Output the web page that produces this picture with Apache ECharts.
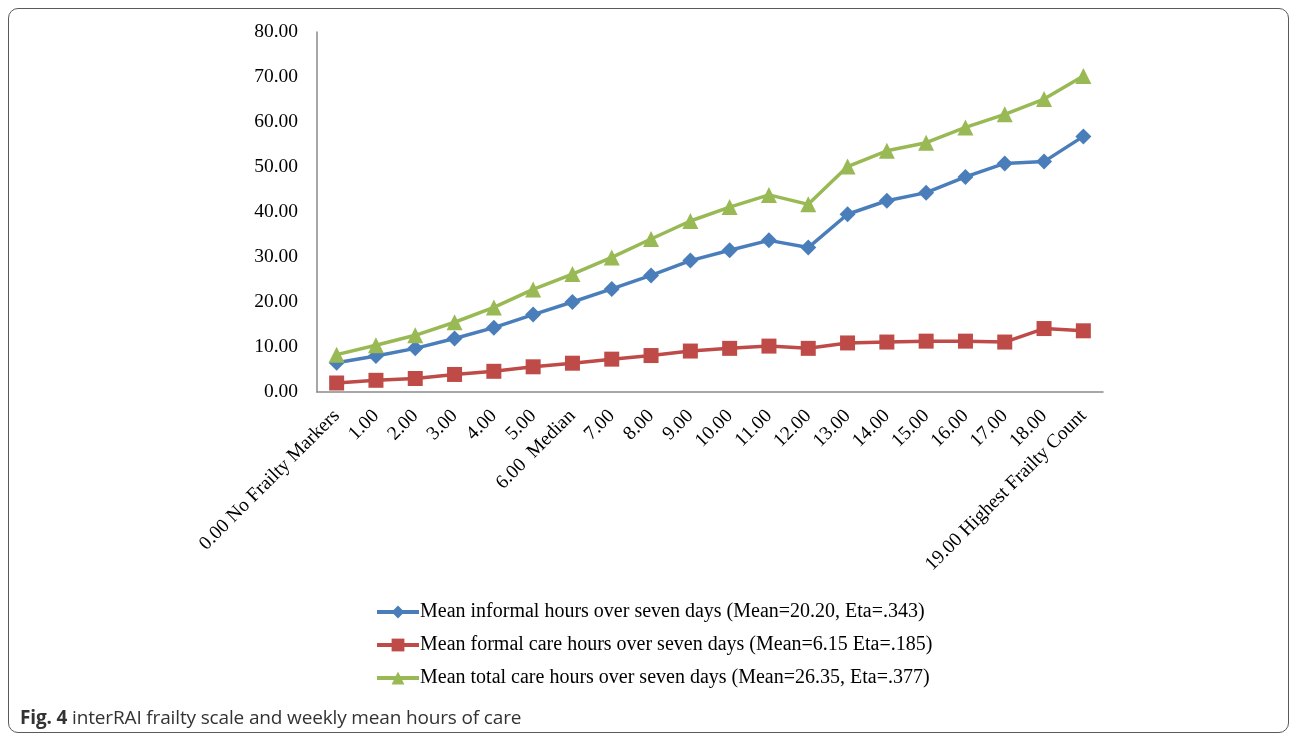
<!DOCTYPE html>
<html>
<head>
<meta charset="utf-8">
<script src="https://cdn.jsdelivr.net/npm/echarts@6/dist/echarts.min.js"></script>
<style>
  html, body { margin: 0; padding: 0; background: #fff; }
  #wrap { position: relative; width: 1292px; height: 736px; overflow: hidden; }
  #frame { position: absolute; left: 8px; top: 8px; width: 1281px; height: 725px;
           border: 1.5px solid #5a5a5a; border-radius: 10px; box-sizing: border-box; }
  #chart { position: absolute; left: 0; top: 0; width: 1292px; height: 736px; }
  #caption { position: absolute; left: 20px; top: 704px; font-family: "Open Sans", sans-serif;
             font-size: 19px; color: #333; letter-spacing: -0.15px; white-space: nowrap; }
  #caption b { font-weight: 700; }
</style>
</head>
<body>
<div id="wrap">
  <div id="frame"></div>
  <div id="chart"></div>
  <div id="caption"><b>Fig. 4</b> interRAI frailty scale and weekly mean hours of care</div>
</div>
<script>
// Frailty count categories (x axis)
const categories = [
  '0.00 No Frailty Markers', '1.00', '2.00', '3.00', '4.00', '5.00', '6.00  Median',
  '7.00', '8.00', '9.00', '10.00', '11.00', '12.00', '13.00', '14.00', '15.00',
  '16.00', '17.00', '18.00', '19.00 Highest Frailty Count'
];

// Weekly mean hours of care per frailty count
const informalHours = [6.5, 8.0, 9.7, 11.9, 14.3, 17.2, 20.0, 22.9, 25.9, 29.2,
                       31.5, 33.7, 32.1, 39.5, 42.5, 44.3, 47.8, 50.8, 51.2, 56.8];
const formalHours   = [2.0, 2.6, 3.0, 3.9, 4.6, 5.6, 6.4, 7.3, 8.1, 9.1,
                       9.7, 10.2, 9.7, 10.9, 11.1, 11.3, 11.3, 11.1, 14.1, 13.6];
const totalHours    = [8.3, 10.4, 12.6, 15.5, 18.8, 22.8, 26.2, 29.9, 34.0, 38.0,
                       41.1, 43.8, 41.7, 50.1, 53.6, 55.4, 58.8, 61.7, 65.1, 70.2];

const seriesNames = [
  'Mean informal hours over seven days (Mean=20.20, Eta=.343)',
  'Mean formal care hours over seven days (Mean=6.15 Eta=.185)',
  'Mean total care hours over seven days (Mean=26.35, Eta=.377)'
];

const serif = '"Liberation Serif", "DejaVu Serif", serif';
const chart = echarts.init(document.getElementById('chart'), null, { renderer: 'canvas' });

function lineSeries(name, data, color, symbol, size) {
  return {
    name: name,
    type: 'line',
    data: data,
    symbol: symbol,
    symbolSize: size,
    showAllSymbol: true,
    lineStyle: { color: color, width: 3.5 },
    itemStyle: { color: color },
    emphasis: { disabled: true },
    animation: false
  };
}

chart.setOption({
  backgroundColor: 'transparent',
  grid: { left: 317, right: 189, top: 32, bottom: 344, containLabel: false },
  xAxis: {
    type: 'category',
    data: categories,
    boundaryGap: true,
    axisLine: { lineStyle: { color: '#8a8a8a', width: 1.5 } },
    axisTick: { show: false },
    axisLabel: {
      rotate: 45, interval: 0, margin: 21,
      fontFamily: serif, fontSize: 19.5, color: '#000'
    }
  },
  yAxis: {
    type: 'value',
    min: 0, max: 80, interval: 10,
    axisLine: { show: true, lineStyle: { color: '#8a8a8a', width: 1.5 } },
    axisTick: { show: false },
    splitLine: { show: false },
    axisLabel: {
      margin: 19, fontFamily: serif, fontSize: 19.5, color: '#000',
      formatter: v => v.toFixed(2)
    }
  },
  legend: {
    orient: 'vertical',
    left: 370, top: 597,
    itemGap: 13,
    itemWidth: 42, itemHeight: 16,
    lineStyle: { width: 4 },
    textStyle: { fontFamily: serif, fontSize: 20, color: '#000', padding: [0, 0, 0, -4] },
    data: seriesNames
  },
  series: [
    lineSeries(seriesNames[0], informalHours, '#4a7ebb', 'diamond', 16),
    lineSeries(seriesNames[1], formalHours, '#be4b48', 'rect', 15),
    lineSeries(seriesNames[2], totalHours, '#98b954', 'triangle', 16)
  ]
});
</script>
</body>
</html>
